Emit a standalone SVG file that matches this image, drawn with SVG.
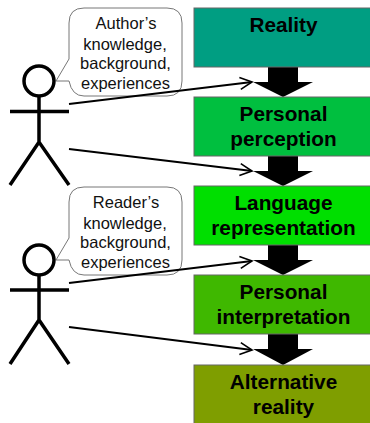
<svg xmlns="http://www.w3.org/2000/svg" width="370" height="423" viewBox="0 0 370 423">
<style>
.box{stroke:#666;stroke-width:1}
.bt{font:bold 20.800px "Liberation Sans",Arial,sans-serif;fill:#000;text-anchor:middle}
.st{font:16.500px "Liberation Sans",Arial,sans-serif;fill:#111;text-anchor:middle}
.fig{fill:none;stroke:#000;stroke-width:3.500}
.bub{fill:#fff;stroke:#777;stroke-width:1}
.con{fill:none;stroke:#000;stroke-width:1.800;marker-end:url(#open)}
.blk{fill:#000}
</style>
<defs>
<marker id="open" markerUnits="userSpaceOnUse" markerWidth="16" markerHeight="16" refX="13" refY="7" orient="auto" viewBox="0 0 16 14"><path d="M1 1L13 7L1 13" fill="none" stroke="#000" stroke-width="1.600"/></marker>
</defs>
<g id="arrows">
<path class="blk" d="M268 67H298V82H313L283 97L253 82H268Z"/>
<path class="blk" d="M268 156H298V171H313L283 186L253 171H268Z"/>
<path class="blk" d="M268 245H298V260H313L283 275L253 260H268Z"/>
<path class="blk" d="M268 334H298V349H313L283 365L253 349H268Z"/>
</g>
<g id="reality"><rect class="box" x="194" y="8" width="180" height="59" fill="#009e82"/><text class="bt" x="283.500" y="32">Reality</text></g>
<g id="perception"><rect class="box" x="194" y="97" width="180" height="59" fill="#00bf3f"/><text class="bt" x="283.500" y="121">Personal</text><text class="bt" x="283.500" y="146">perception</text></g>
<g id="language"><rect class="box" x="194" y="186" width="180" height="59" fill="#00df00"/><text class="bt" x="283.500" y="210">Language</text><text class="bt" x="283.500" y="235">representation</text></g>
<g id="interpretation"><rect class="box" x="194" y="275" width="180" height="59" fill="#3fb800"/><text class="bt" x="283.500" y="299">Personal</text><text class="bt" x="283.500" y="324">interpretation</text></g>
<g id="alternative"><rect class="box" x="194" y="365" width="180" height="59" fill="#7f9e00"/><text class="bt" x="283.500" y="389">Alternative</text><text class="bt" x="283.500" y="414">reality</text></g>
<g id="author-bubble"><path class="bub" d="M84 8H167Q182 8 182 23V81Q182 96 167 96H84Q72 96 69 81H56L69 59V23Q69 8 84 8Z"/>
<text class="st" x="126" y="29">Author’s</text><text class="st" x="125" y="50">knowledge,</text><text class="st" x="125.500" y="69">background,</text><text class="st" x="125.500" y="89">experiences</text></g>
<g id="reader-bubble"><path class="bub" d="M84 187H167Q182 187 182 202V260Q182 275 167 275H84Q72 275 69 260H56L69 238V202Q69 187 84 187Z"/>
<text class="st" x="126" y="208">Reader’s</text><text class="st" x="125" y="229">knowledge,</text><text class="st" x="125.500" y="248">background,</text><text class="st" x="125.500" y="268">experiences</text></g>
<g id="author"><circle class="fig" cx="39" cy="81" r="15"/><path class="fig" d="M39 96V142M10 111.500H69M10 185L39 142L69 185"/></g>
<g id="reader"><circle class="fig" cx="39" cy="260" r="15"/><path class="fig" d="M39 275V320M10 290H69M10 364L39 320L69 364"/></g>
<g id="connectors">
<path class="con" d="M69 104L252 82"/>
<path class="con" d="M69 149L252 171"/>
<path class="con" d="M69 283L252 261"/>
<path class="con" d="M69 327L252 350"/>
</g>
</svg>
